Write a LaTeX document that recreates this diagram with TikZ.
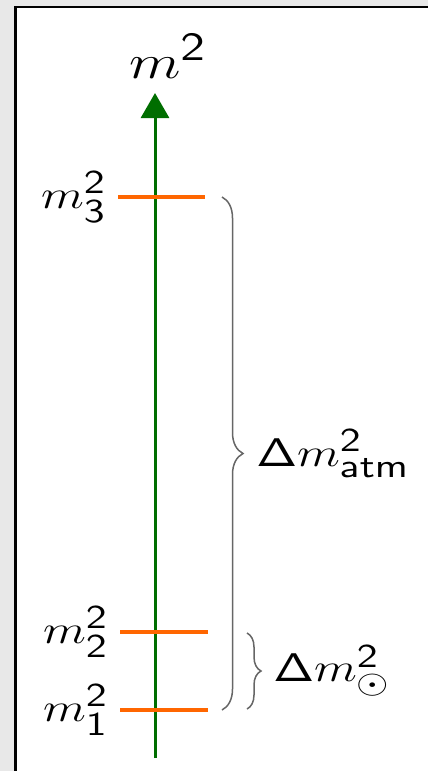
\documentclass[tikz,border=0pt]{standalone}
\usepackage{amsmath}
\usepackage{amssymb}
\usetikzlibrary{arrows.meta,decorations.pathreplacing}
\DeclareSymbolFont{operators}{OT1}{cmss}{m}{n}
\SetSymbolFont{operators}{bold}{OT1}{cmss}{bx}{n}
\DeclareMathSizes{13}{13}{10.4}{8}
\DeclareMathSizes{15.5}{15.5}{12.4}{9.3}
\definecolor{axisgreen}{RGB}{0,110,0}
\definecolor{levelorange}{RGB}{255,102,0}
\definecolor{framegray}{RGB}{232,232,232}

\begin{document}
\begin{tikzpicture}[x=0.3pt,y=-0.3pt,
  level/.style={levelorange,line width=1.2pt},
  lbl/.style={xscale=1.25,inner sep=2.5pt,font=\fontsize{13}{15}\selectfont},
  bracegray/.style={black!60,line width=0.45pt,decorate}]
\useasboundingbox (0,0) rectangle (428,771);
\fill[framegray] (0,0) rectangle (428,771);
\fill[white] (16,7) rectangle (428,771);
\draw[line width=0.75pt] (15.5,771) -- (15.5,7) -- (428,7);

\coordinate (axis_bottom) at (155,758);
\coordinate (axis_top) at (155,93);
\draw[axisgreen,line width=0.9pt,-{Triangle[width=8.4pt,length=7.5pt]}] (axis_bottom) -- (axis_top);
\node[lbl,font=\fontsize{15.5}{18}\selectfont,anchor=base] (msq_label) at (168,78) {$m^2$};

\coordinate (m3_left) at (118,197);
\coordinate (m3_right) at (205,197);
\coordinate (m2_left) at (120,632);
\coordinate (m2_right) at (208,632);
\coordinate (m1_left) at (120,710);
\coordinate (m1_right) at (208,710);
\draw[level] (m3_left) -- (m3_right);
\draw[level] (m2_left) -- (m2_right);
\draw[level] (m1_left) -- (m1_right);
\node[lbl,anchor=east] (m3_label) at (m3_left) {$m_3^2$};
\node[lbl,anchor=east] (m2_label) at (m2_left) {$m_2^2$};
\node[lbl,anchor=east] (m1_label) at (m1_left) {$m_1^2$};

\coordinate (atm_top) at (222,197);
\coordinate (atm_bottom) at (222,710);
\coordinate (atm_tip) at (245,454);
\draw[bracegray,decoration={brace,amplitude=6.3pt}] (atm_top) -- (atm_bottom);
\node[lbl,anchor=west] (atm_label) at (atm_tip) {$\Delta m^2_{\mathrm{atm}}$};

\coordinate (sol_top) at (247,633);
\coordinate (sol_bottom) at (247,709);
\coordinate (sol_tip) at (262,671);
\draw[bracegray,decoration={brace,amplitude=4.2pt}] (sol_top) -- (sol_bottom);
\node[lbl,anchor=west] (sol_label) at (sol_tip) {$\Delta m^2_{\odot}$};
\end{tikzpicture}
\end{document}
